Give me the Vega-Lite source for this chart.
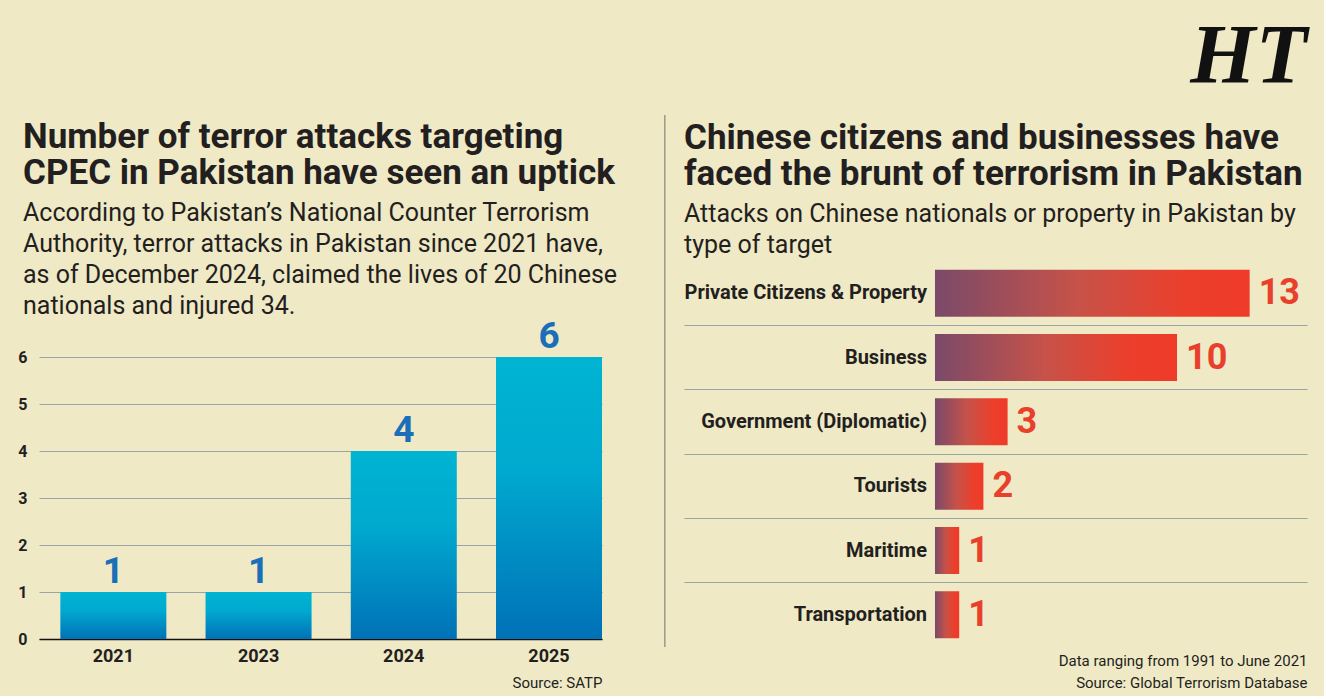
{
  "$schema": "https://vega.github.io/schema/vega-lite/v6.json",
  "background": "#efe9c6",
  "padding": {"left": 17, "top": 15, "right": 17, "bottom": 6},
  "bounds": "flush",
  "title": {
    "text": "HT",
    "anchor": "end",
    "font": "Liberation Serif",
    "fontSize": 84,
    "fontWeight": "bold",
    "fontStyle": "italic",
    "color": "#111111",
    "offset": 14,
    "subtitle": ""
  },
  "spacing": 82,
  "hconcat": [
    {
      "width": 563,
      "height": 378,
      "title": {
        "text": ["Number of terror attacks targeting", "CPEC in Pakistan have seen an uptick"],
        "subtitle": [
          "According to Pakistan’s National Counter Terrorism",
          "Authority, terror attacks in Pakistan since 2021 have,",
          "as of December 2024, claimed the lives of 20 Chinese",
          "nationals and injured 34."
        ],
        "anchor": "start",
        "frame": "group",
        "dx": -16,
        "offset": -58
      },
      "data": {
        "values": [
          {"year": "2021", "attacks": 1},
          {"year": "2023", "attacks": 1},
          {"year": "2024", "attacks": 4},
          {"year": "2025", "attacks": 6}
        ]
      },
      "encoding": {
        "x": {
          "field": "year",
          "type": "ordinal",
          "scale": {"paddingInner": 0.27, "paddingOuter": 0.0735, "align": 1},
          "axis": {
            "labelAngle": 0,
            "labelFontSize": 18,
            "labelFontWeight": "bold",
            "labelColor": "#231f20",
            "labelPadding": 8,
            "ticks": false,
            "domainColor": "#111111",
            "domainWidth": 1.5,
            "title": "Source: SATP",
            "titleAnchor": "end",
            "titleFontSize": 15,
            "titleFontWeight": "normal",
            "titleColor": "#231f20",
            "titlePadding": 10
          }
        },
        "y": {
          "field": "attacks",
          "type": "quantitative",
          "scale": {"domain": [0, 8.043], "nice": false},
          "axis": {
            "values": [0, 1, 2, 3, 4, 5, 6],
            "labelFontSize": 16,
            "labelFontWeight": "bold",
            "labelColor": "#231f20",
            "labelPadding": 12,
            "ticks": false,
            "domain": false,
            "gridColor": "#98a4a6",
            "gridWidth": 1,
            "title": null
          }
        }
      },
      "layer": [
        {
          "mark": {
            "type": "bar",
            "color": {
              "gradient": "linear",
              "x1": 0, "y1": 0, "x2": 0, "y2": 1,
              "stops": [
                {"offset": 0, "color": "#00b4d2"},
                {"offset": 0.4, "color": "#00a9cf"},
                {"offset": 1, "color": "#0071b7"}
              ]
            }
          }
        },
        {
          "mark": {
            "type": "text",
            "baseline": "bottom",
            "dy": -1,
            "fontSize": 37,
            "fontWeight": "bold",
            "color": "#1b6fb8"
          },
          "encoding": {"text": {"field": "attacks", "type": "quantitative"}}
        }
      ]
    },
    {
      "width": 623,
      "height": 386,
      "title": {
        "text": ["Chinese citizens and businesses have", "faced the brunt of terrorism in Pakistan"],
        "subtitle": [
          "Attacks on Chinese nationals or property in Pakistan by",
          "type of target"
        ],
        "anchor": "start",
        "frame": "group",
        "offset": -143
      },
      "layer": [
        {
          "data": {
            "values": [
              {"target": "Private Citizens & Property", "attacks": 13},
              {"target": "Business", "attacks": 10},
              {"target": "Government (Diplomatic)", "attacks": 3},
              {"target": "Tourists", "attacks": 2},
              {"target": "Maritime", "attacks": 1},
              {"target": "Transportation", "attacks": 1}
            ]
          },
          "encoding": {
            "y": {
              "field": "target",
              "type": "nominal",
              "sort": null,
              "scale": {"paddingInner": 0, "paddingOuter": 0},
              "axis": {
                "labels": false,
                "ticks": false,
                "domain": false,
                "title": null,
                "grid": true,
                "bandPosition": 0,
                "gridColor": "#98a4a6",
                "gridWidth": 1,
                "gridOpacity": {
                  "condition": {"test": "datum.value === 'Private Citizens & Property'", "value": 0},
                  "value": 1
                }
              }
            }
          },
          "layer": [
            {
              "mark": {
                "type": "bar",
                "height": 47,
                "color": {
                  "gradient": "linear",
                  "x1": 0, "y1": 0, "x2": 1, "y2": 0,
                  "stops": [
                    {"offset": 0, "color": "#7a4a69"},
                    {"offset": 0.45, "color": "#c65249"},
                    {"offset": 0.8, "color": "#ec3f2b"},
                    {"offset": 1, "color": "#ef3a29"}
                  ]
                }
              },
              "encoding": {
                "x": {
                  "field": "attacks",
                  "type": "quantitative",
                  "scale": {"domain": [-10.37, 15.37], "nice": false, "zero": false},
                  "axis": {
                    "labels": false,
                    "ticks": false,
                    "domain": false,
                    "grid": false,
                    "title": ["Data ranging from 1991 to June 2021", "Source: Global Terrorism Database"],
                    "titleAnchor": "end",
                    "titleFontSize": 15,
                    "titleFontWeight": "normal",
                    "titleColor": "#231f20",
                    "titlePadding": 6,
                    "titleLineHeight": 22
                  }
                }
              }
            },
            {
              "mark": {
                "type": "text",
                "align": "right",
                "dx": -8,
                "fontSize": 20,
                "fontWeight": "bold",
                "color": "#231f20"
              },
              "encoding": {
                "x": {"datum": 0},
                "text": {"field": "target", "type": "nominal"}
              }
            },
            {
              "mark": {
                "type": "text",
                "align": "left",
                "dx": 9,
                "fontSize": 36,
                "fontWeight": "bold",
                "color": "#e8402b"
              },
              "encoding": {
                "x": {"field": "attacks", "type": "quantitative"},
                "text": {"field": "attacks", "type": "quantitative"}
              }
            }
          ]
        },
        {
          "data": {"values": [{"divider": "panel"}]},
          "mark": {"type": "rule", "color": "#6f6f6f", "strokeWidth": 1, "yOffset": -146, "y2Offset": 15},
          "encoding": {"x": {"datum": -11.16}}
        }
      ]
    }
  ],
  "config": {
    "font": "Roboto",
    "view": {"stroke": null},
    "title": {
      "fontSize": 35,
      "fontWeight": "bold",
      "color": "#231f20",
      "lineHeight": 36,
      "subtitleFontSize": 25,
      "subtitleColor": "#231f20",
      "subtitleLineHeight": 31,
      "subtitlePadding": 10,
      "subtitleFontWeight": "normal"
    }
  }
}
